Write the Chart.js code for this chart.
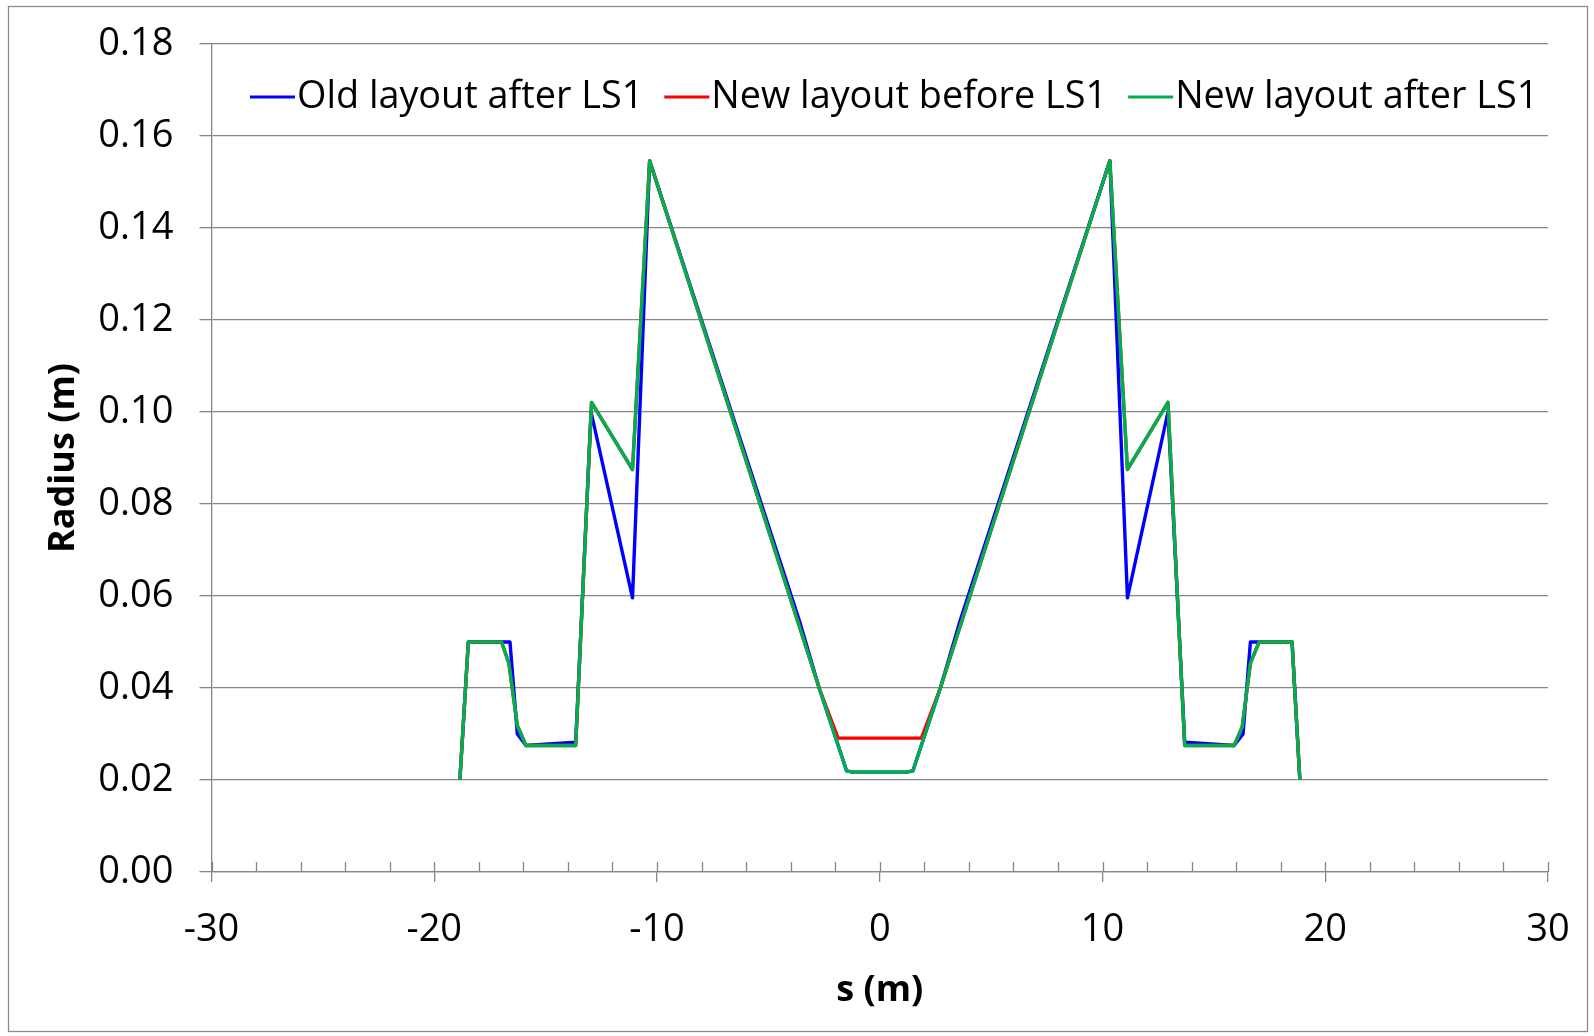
<!DOCTYPE html>
<html>
<head>
<meta charset="utf-8">
<title>Radius vs s</title>
<script src="https://cdn.jsdelivr.net/npm/chart.js@4.4.1/dist/chart.umd.min.js"></script>
<style>
  html, body { margin: 0; padding: 0; background: #fff; }
  canvas { display: block; }
</style>
</head>
<body>
<canvas id="chart" width="1594" height="1036"></canvas>
<script>
// ── Data ──────────────────────────────────────────────────────────
const seriesNames = ["Old layout after LS1", "New layout before LS1", "New layout after LS1"];

const oldAfterS = [-18.85, -18.47, -16.60, -16.27, -15.88, -13.65, -12.96, -11.10, -10.33,
                   -3.60, -2.72, -1.49, -1.20, 1.20, 1.49, 2.72, 3.60,
                   10.33, 11.12, 12.94, 13.69, 15.91, 16.31, 16.64, 18.51, 18.86];
const oldAfterR = [0.020, 0.050, 0.050, 0.030, 0.0275, 0.0282, 0.100, 0.0596, 0.1546,
                   0.0545, 0.040, 0.022, 0.0217, 0.0217, 0.022, 0.040, 0.0545,
                   0.1546, 0.0596, 0.100, 0.0282, 0.0275, 0.030, 0.050, 0.050, 0.020];

const newBeforeS = [-18.85, -18.47, -16.98, -16.65, -16.27, -15.88, -13.65, -12.94, -11.10, -10.33,
                    -2.72, -1.87, 1.87, 2.72,
                    10.33, 11.12, 12.94, 13.69, 15.91, 16.27, 16.64, 17.03, 18.51, 18.86];
const newBeforeR = [0.020, 0.050, 0.050, 0.0454, 0.0318, 0.0275, 0.0275, 0.1021, 0.0875, 0.1546,
                    0.040, 0.0291, 0.0291, 0.040,
                    0.1546, 0.0875, 0.1021, 0.0275, 0.0275, 0.0315, 0.0454, 0.050, 0.050, 0.020];

const newAfterS = [-18.85, -18.47, -16.98, -16.65, -16.27, -15.88, -13.65, -12.94, -11.10, -10.33,
                   -2.72, -1.49, -1.20, 1.20, 1.49, 2.72,
                   10.33, 11.12, 12.94, 13.69, 15.91, 16.27, 16.64, 17.03, 18.51, 18.86];
const newAfterR = [0.020, 0.050, 0.050, 0.0454, 0.0318, 0.0275, 0.0275, 0.1021, 0.0875, 0.1546,
                   0.040, 0.022, 0.0217, 0.0217, 0.022, 0.040,
                   0.1546, 0.0875, 0.1021, 0.0275, 0.0275, 0.0315, 0.0454, 0.050, 0.050, 0.020];

const xTicks = [-30, -20, -10, 0, 10, 20, 30];
const yTicks = [0.00, 0.02, 0.04, 0.06, 0.08, 0.10, 0.12, 0.14, 0.16, 0.18];

// ── Style ─────────────────────────────────────────────────────────
const fontFamily = "'Open Sans', sans-serif";
const axisGray   = "#868686";
const colors     = ["#0000FF", "#FF0000", "#00B050"];

function toPoints(xs, ys) {
  return xs.map((x, i) => ({ x: x, y: ys[i] }));
}

// frame + inner legend + minor x ticks
const decorations = {
  id: "decorations",
  beforeDraw(chart) {
    const ctx = chart.ctx;
    ctx.save();
    ctx.fillStyle = "#fff";
    ctx.fillRect(0, 0, chart.width, chart.height);
    ctx.strokeStyle = "#8c8c8c";
    ctx.lineWidth = 1.3;
    ctx.strokeRect(8.5, 6.5, 1579, 1025);
    ctx.restore();
  },
  afterDraw(chart) {
    const ctx = chart.ctx;
    const xs = chart.scales.x;
    const y0 = chart.chartArea.bottom;
    ctx.save();
    ctx.strokeStyle = axisGray;
    ctx.lineWidth = 1.3;
    ctx.beginPath();
    for (let v = xs.min; v <= xs.max + 1e-9; v += 2) {
      const px = Math.round(xs.getPixelForValue(v)) + 0.5;
      ctx.moveTo(px, y0);
      ctx.lineTo(px, y0 - 10);
    }
    ctx.stroke();

    // legend, drawn inside the plot area
    ctx.font = "37.8px " + fontFamily;
    ctx.textBaseline = "middle";
    ctx.fillStyle = "#000";
    let x = 250;
    const ly = 97;
    chart.data.datasets.forEach((ds) => {
      ctx.strokeStyle = ds.borderColor;
      ctx.lineWidth = 3;
      ctx.beginPath();
      ctx.moveTo(x, ly);
      ctx.lineTo(x + 45, ly);
      ctx.stroke();
      ctx.fillText(ds.label, x + 47, ly);
      x += 47 + ctx.measureText(ds.label).width + 21;
    });
    ctx.restore();
  },
};

const lineStyle = {
  showLine: true,
  borderWidth: 3.4,
  pointRadius: 0,
  pointHoverRadius: 0,
  tension: 0,
  borderJoinStyle: "round",
  borderCapStyle: "butt",
  fill: false,
};

new Chart(document.getElementById("chart").getContext("2d"), {
  type: "scatter",
  data: {
    datasets: [
      { ...lineStyle, label: seriesNames[0], data: toPoints(oldAfterS, oldAfterR),
        borderColor: colors[0], backgroundColor: colors[0], order: 2 },
      { ...lineStyle, label: seriesNames[1], data: toPoints(newBeforeS, newBeforeR),
        borderColor: colors[1], backgroundColor: colors[1], order: 1 },
      { ...lineStyle, label: seriesNames[2], data: toPoints(newAfterS, newAfterR),
        borderColor: colors[2], backgroundColor: colors[2], order: 0 },
    ],
  },
  options: {
    responsive: false,
    devicePixelRatio: 1,
    animation: false,
    layout: { padding: { left: 0, top: 44, right: 46, bottom: 0 } },
    plugins: {
      legend: { display: false },
      tooltip: { enabled: false },
    },
    scales: {
      x: {
        type: "linear",
        min: -30,
        max: 30,
        afterBuildTicks: (scale) => { scale.ticks = xTicks.map((v) => ({ value: v })); },
        afterFit: (scale) => {
          scale.height = 1036 - 872;
          scale.paddingLeft = 0;
          scale.paddingRight = 0;
        },
        grid: { drawOnChartArea: false, drawTicks: true, tickLength: 10, color: axisGray, lineWidth: 1.3 },
        border: { display: true, color: axisGray, width: 1.3 },
        ticks: {
          padding: 25,
          color: "#000",
          font: { family: fontFamily, size: 38 },
          callback: (v) => String(v),
        },
        title: {
          display: true,
          text: "s (m)",
          color: "#000",
          font: { family: fontFamily, size: 36, weight: "bold" },
          padding: { top: 0, bottom: 24 },
        },
      },
      y: {
        type: "linear",
        min: 0,
        max: 0.18,
        afterBuildTicks: (scale) => { scale.ticks = yTicks.map((v) => ({ value: v })); },
        afterFit: (scale) => {
          scale.width = 211.5;
          scale.paddingTop = 0;
          scale.paddingBottom = 0;
        },
        grid: { color: axisGray, lineWidth: 1.3, drawTicks: true, tickLength: 12 },
        border: { display: true, color: axisGray, width: 1.3 },
        ticks: {
          padding: 26,
          color: "#000",
          font: { family: fontFamily, size: 38 },
          callback: (v) => v.toFixed(2),
        },
        title: {
          display: true,
          text: "Radius (m)",
          color: "#000",
          font: { family: fontFamily, size: 36, weight: "bold" },
          padding: { top: 42, bottom: 0 },
        },
      },
    },
  },
  plugins: [decorations],
});
</script>
</body>
</html>
